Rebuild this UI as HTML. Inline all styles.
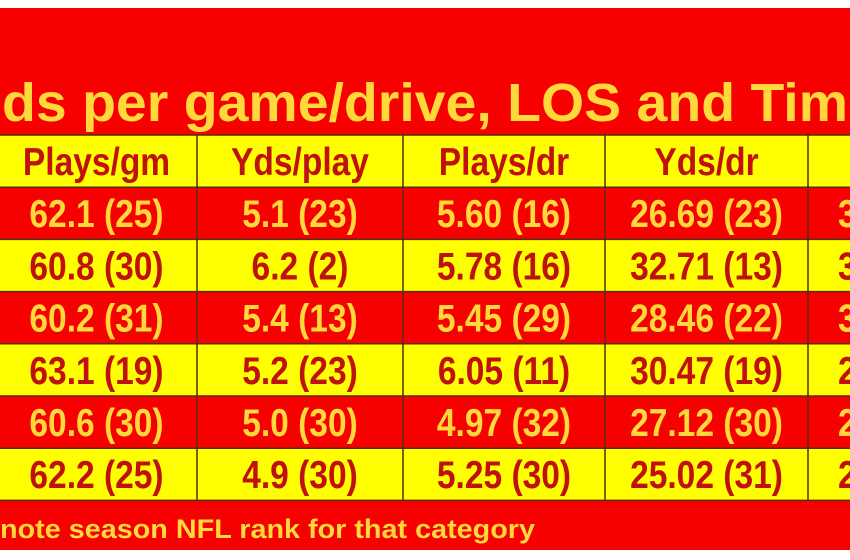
<!DOCTYPE html>
<html><head><meta charset="utf-8"><style>
html,body{margin:0;padding:0;background:#fff;width:850px;height:560px;overflow:hidden}
svg{display:block;font-family:"Liberation Sans",sans-serif;font-weight:bold}
</style></head><body>
<svg id="tbl" width="850" height="560" viewBox="0 0 850 560" xmlns="http://www.w3.org/2000/svg">
<rect x="0" y="8" width="850" height="542" fill="#f60000"/>
<text x="2" y="121" font-size="54" fill="#ffd83a" textLength="846" lengthAdjust="spacingAndGlyphs">ds per game/drive, LOS and Tim</text>
<g id="rows"></g>
<text x="0" y="538" font-size="27" fill="#ffd83a" textLength="535" lengthAdjust="spacingAndGlyphs">note season NFL rank for that category</text>
</svg>
<script>
const headers = ["Plays/gm", "Yds/play", "Plays/dr", "Yds/dr", ""];
const playsPerGame = ["62.1 (25)", "60.8 (30)", "60.2 (31)", "63.1 (19)", "60.6 (30)", "62.2 (25)"];
const yardsPerPlay = ["5.1 (23)", "6.2 (2)", "5.4 (13)", "5.2 (23)", "5.0 (30)", "4.9 (30)"];
const playsPerDrive = ["5.60 (16)", "5.78 (16)", "5.45 (29)", "6.05 (11)", "4.97 (32)", "5.25 (30)"];
const yardsPerDrive = ["26.69 (23)", "32.71 (13)", "28.46 (22)", "30.47 (19)", "27.12 (30)", "25.02 (31)"];
const col5 = ["3", "3", "3", "2", "2", "2"];

const NS = "http://www.w3.org/2000/svg";
const g = document.getElementById("rows");
const colX = [-10, 197, 403, 605, 808, 900];
const rowTop = 135, rowH = 52.2;
const RED = "#f60000", YEL = "#ffff00", DARK = "#c01010", LT = "#ffd83a", LINE = "#5a2a10";
const columns = [playsPerGame, yardsPerPlay, playsPerDrive, yardsPerDrive, col5];
const nRows = playsPerGame.length;

function mk(tag, attrs) { const e = document.createElementNS(NS, tag); for (const k in attrs) e.setAttribute(k, attrs[k]); return e; }

for (let r = -1; r < nRows; r++) {
  const y = rowTop + (r + 1) * rowH;
  const fill = r === -1 ? YEL : (r % 2 === 0 ? RED : YEL);
  const tcol = fill === YEL ? DARK : LT;
  const bg = mk("rect", {x: 0, y: y, width: 850, height: rowH, fill: fill});
  
  
  g.appendChild(bg);
  for (let c = 0; c < 5; c++) {
    const txt = r === -1 ? headers[c] : columns[c][r];
    if (!txt) continue;
    const cx = c === 4 ? 838 : (colX[c] + colX[c + 1]) / 2 + (c === 0 ? 3 : 0);
    const t = mk("text", {transform: "translate(" + cx + "," + (y + 40) + ") scale(0.86,1)", "font-size": 39, fill: tcol, "text-anchor": c === 4 ? "start" : "middle"});
    t.textContent = txt;
    
    
    g.appendChild(t);
  }
  const hl = mk("line", {x1: 0, x2: 850, y1: y, y2: y, stroke: LINE, "stroke-width": 1.5});
  
  
  g.appendChild(hl);
}
const bottom = rowTop + (nRows + 1) * rowH;
const bl = mk("line", {x1: 0, x2: 850, y1: bottom, y2: bottom, stroke: LINE, "stroke-width": 1.5});


g.appendChild(bl);
for (let c = 1; c < 5; c++) {
  const vl = mk("line", {x1: colX[c], x2: colX[c], y1: rowTop, y2: bottom, stroke: LINE, "stroke-width": 1.5});
  
  
  g.appendChild(vl);
}
</script>
</body></html>
